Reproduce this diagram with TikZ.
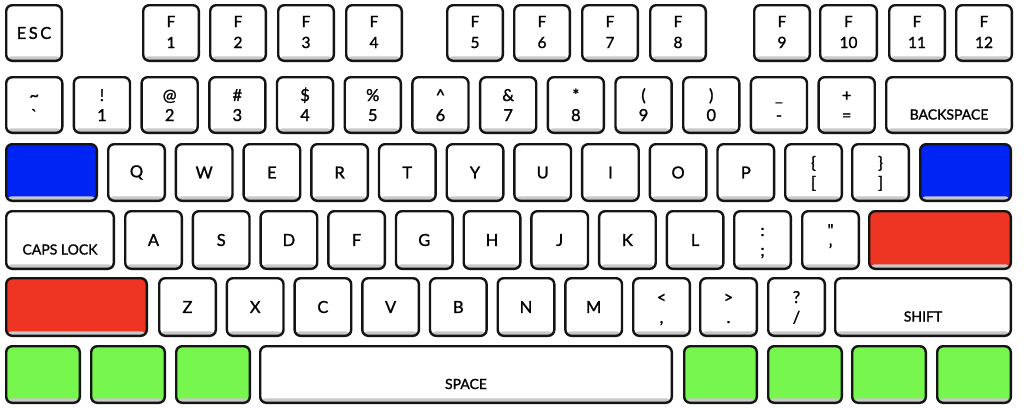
\documentclass[tikz,border=0pt]{standalone}
\usepackage{fontspec}
\setmainfont{Lato}[FakeBold=1.2]
\definecolor{kblue}{HTML}{0024F4}
\definecolor{kred}{HTML}{EE3524}
\definecolor{kgreen}{HTML}{77F74E}
\definecolor{kshadow}{HTML}{C8C8C8}
\tikzset{
  key/.style={draw=black!92, line width=2.4pt, rounded corners=6pt, fill=white,
    inner sep=0pt, align=center, font=\fontsize{16.5}{16.5}\selectfont,
    path picture={\fill[kshadow] ([yshift=-2pt]path picture bounding box.south west) rectangle ([yshift=4.5pt]path picture bounding box.south east);}},
}
\newcommand\K[7]{\node[key,minimum width={(#4-#2-2.4)*1pt},minimum height={(#5-#3-2.4)*1pt},#6] (#1) at ({(#2+#4)/2},{-(#3+#5)/2}) {#7};}
% two-line label: upper / lower, zero-size so baselines are set from the key centre
\newcommand\tl[2]{\makebox[0pt]{\raisebox{4pt}[0pt][0pt]{#1}}\makebox[0pt]{\raisebox{-16pt}[0pt][0pt]{#2}}}
\newcommand\fl[2]{\makebox[0pt]{\raisebox{6pt}[0pt][0pt]{#1}}\makebox[0pt]{\raisebox{-15pt}[0pt][0pt]{#2}}}
\newcommand\wl[1]{{\fontsize{14}{14}\selectfont\makebox[0pt]{\raisebox{-14.5pt}[0pt][0pt]{#1}}}}
\begin{document}
\begin{tikzpicture}[x=1pt,y=1pt]
\useasboundingbox[fill=white] (0,0) rectangle (1024,-410);
% function row
\K{esc}{5}{4}{63}{62}{}{E\hspace{2.5pt}S\hspace{2.5pt}C}
\foreach \n/\xa/\xb in {1/142/200, 2/209/267, 3/277/335, 4/345/403, 5/446/504, 6/513/571, 7/581/639, 8/649/707, 9/753/811, 10/819/878, 11/888/946, 12/955/1013}{
  \K{f\n}{\xa}{4}{\xb}{62}{font=\fontsize{15.5}{15.5}\selectfont}{\fl{F}{\n}}
}
% number row
\foreach \i/\a/\b in {0/\textasciitilde/\textasciigrave, 1/!/1, 2/@/2, 3/\#/3, 4/\$/4, 5/\%/5, 6/\textasciicircum/6, 7/\&/7, 8/*/8, 9/(/9, 10/)/0, 11/\_/-, 12/+/=}{
  \pgfmathsetmacro\xa{5+\i*67.7}
  \pgfmathsetmacro\xb{\xa+58.5}
  \K{n\i}{\xa}{76}{\xb}{134}{}{\tl{\a}{\b}}
}
\K{bksp}{885}{76}{1013}{134}{}{\wl{BACKSPACE}}
% Q row
\K{tabk}{5}{143}{98}{202}{fill=kblue}{}
\foreach \i/\a in {0/Q,1/W,2/E,3/R,4/T,5/Y,6/U,7/I,8/O,9/P}{
  \pgfmathsetmacro\xa{107+\i*67.7}
  \pgfmathsetmacro\xb{\xa+59}
  \K{q\i}{\xa}{143}{\xb}{202}{}{\a}
}
\K{lbr}{784}{143}{843}{202}{}{\tl{\{}{[}}
\K{rbr}{851}{143}{910}{202}{}{\tl{\}}{]}}
\K{bsl}{919}{143}{1012}{202}{fill=kblue}{}
% A row
\K{caps}{5}{210}{115}{270}{}{\wl{CAPS LOCK}}
\foreach \i/\a in {0/A,1/S,2/D,3/F,4/G,5/H,6/J,7/K,8/L}{
  \pgfmathsetmacro\xa{124+\i*67.7}
  \pgfmathsetmacro\xb{\xa+59}
  \K{a\i}{\xa}{210}{\xb}{270}{}{\a}
}
\K{semi}{733}{210}{792}{270}{}{\tl{:}{;}}
\K{quot}{801}{210}{860}{270}{}{\tl{\textquotedbl}{'}}
\K{enter}{868}{210}{1012}{270}{fill=kred}{}
% Z row
\K{lsh}{5}{277}{148}{337}{fill=kred}{}
\foreach \i/\a in {0/Z,1/X,2/C,3/V,4/B,5/N,6/M}{
  \pgfmathsetmacro\xa{158+\i*67.7}
  \pgfmathsetmacro\xb{\xa+59}
  \K{z\i}{\xa}{277}{\xb}{337}{}{\a}
}
\K{comma}{632}{277}{691}{337}{}{\tl{\textless}{,}}
\K{period}{699}{277}{758}{337}{}{\tl{\textgreater}{.}}
\K{slash}{767}{277}{826}{337}{}{\tl{?}{/}}
\K{rsh}{834}{277}{1012}{337}{}{\wl{SHIFT}}
% bottom row
\K{g1}{5}{345}{81}{404}{fill=kgreen}{}
\K{g2}{90}{345}{166}{404}{fill=kgreen}{}
\K{g3}{175}{345}{251}{404}{fill=kgreen}{}
\K{space}{259}{345}{673}{404}{}{\wl{SPACE}}
\K{g4}{683}{345}{758}{404}{fill=kgreen}{}
\K{g5}{767}{345}{843}{404}{fill=kgreen}{}
\K{g6}{851}{345}{927}{404}{fill=kgreen}{}
\K{g7}{936}{345}{1012}{404}{fill=kgreen}{}
\end{tikzpicture}
\end{document}
